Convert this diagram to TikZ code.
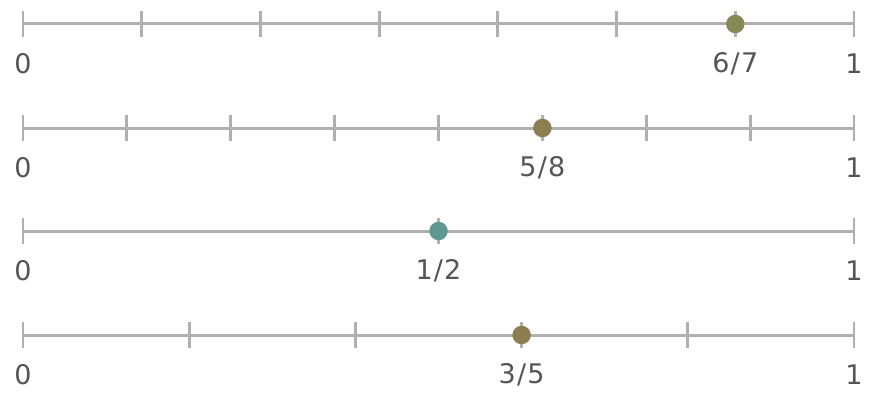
\documentclass[tikz,border=0pt]{standalone}
\usepackage{fontspec}
\setmainfont{DejaVu Sans}
\definecolor{axisgray}{HTML}{B0B0B0}
\definecolor{labelgray}{HTML}{555555}
\definecolor{olivedot}{HTML}{878857}
\definecolor{browndot}{HTML}{8C7E50}
\definecolor{tealdot}{HTML}{5E9892}
\newcommand{\fr}[2]{#1\kern1.2pt/\kern1.2pt#2}
\begin{document}
\begin{tikzpicture}[x=1pt,y=-1pt,
  axis/.style={draw=axisgray,line width=3pt},
  tick/.style={draw=axisgray,line width=2.8pt},
  lab/.style={text=labelgray,font=\fontsize{27}{30}\selectfont,anchor=center,inner sep=0pt},
  dot/.style={circle,inner sep=0pt,minimum size=18.5pt}]
\useasboundingbox (0,0) rectangle (880,412);
\foreach \row/\yy/\den/\num/\col in {a/24/7/6/olivedot, b/128/8/5/browndot, c/231/2/1/tealdot, d/335/5/3/browndot}{
  \coordinate (\row-s) at (23,\yy);
  \coordinate (\row-e) at (854,\yy);
  \draw[axis] (\row-s) -- (\row-e);
  \foreach \k in {0,...,\den}{
    \coordinate (\row-t\k) at ({23+831*\k/\den},\yy);
    \draw[tick] ([yshift=-13pt]\row-t\k) -- ([yshift=13pt]\row-t\k);
  }
  \node[dot,fill=\col] (\row-dot) at ({23+831*\num/\den},\yy) {};
  \node[lab] (\row-zero) at (23,\yy+40) {0};
  \node[lab] (\row-one) at (854,\yy+40) {1};
  \node[lab] (\row-frac) at ({23+831*\num/\den},\yy+40) {\fr{\num}{\den}};
}
\end{tikzpicture}
\end{document}
